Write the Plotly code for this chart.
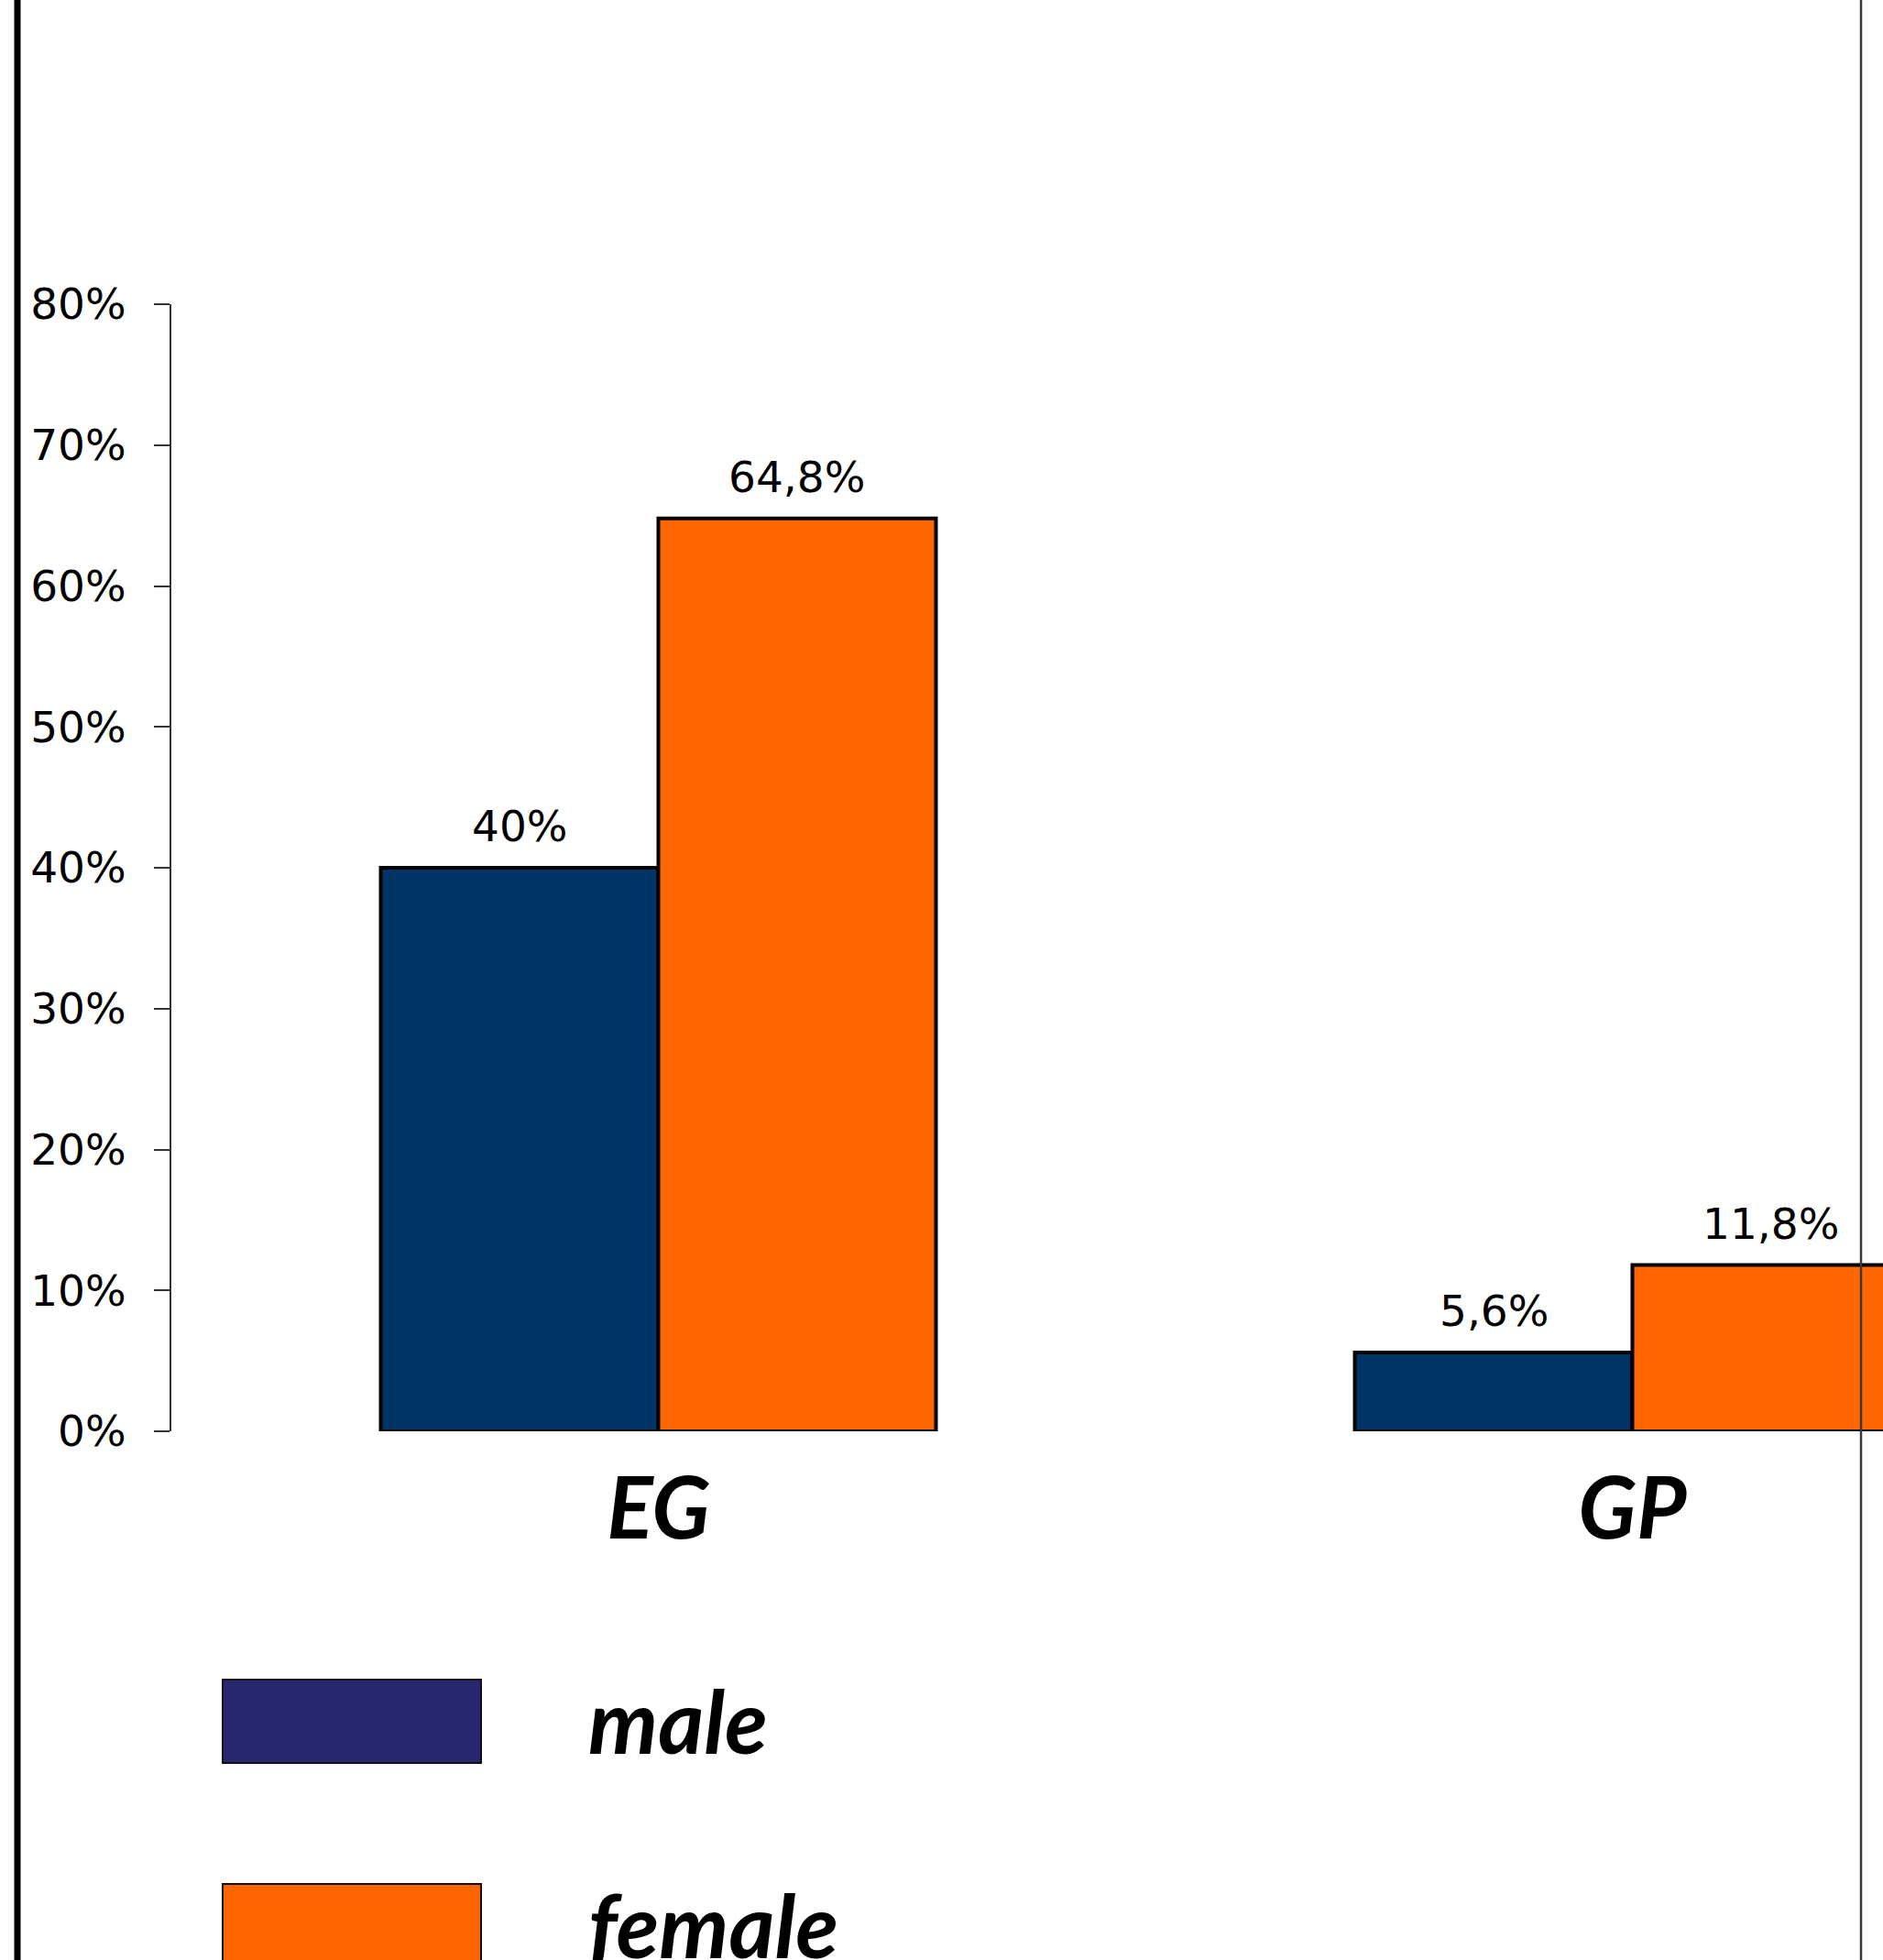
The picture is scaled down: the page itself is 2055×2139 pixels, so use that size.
import plotly.graph_objects as go

# Share of respondents by group and sex
categories = ["EG", "GP"]
male_values = [40.0, 5.6]
female_values = [64.8, 11.8]
series_names = ["male", "female"]
y_tick_values = [0, 10, 20, 30, 40, 50, 60, 70, 80]
y_tick_labels = ["0%", "10%", "20%", "30%", "40%", "50%", "60%", "70%", "80%"]

MALE_BAR = "#003366"
MALE_KEY = "#29276F"
FEMALE = "#FF6600"

W, H = 2055, 2139
L, R, T, B = 187, 0, 332, 577
BARGAP = 0.43

LABEL_FONT = dict(family="DejaVu Sans", size=47, color="black")
SCRIPT_FONT = dict(family="Lato", size=94, color="black", weight="bold", style="italic")


def fmt(v):
    return f"{v:g}".replace(".", ",") + "%"


plot_w = W - L - R
plot_h = H - T - B


def px(x):
    return (x - L) / plot_w


def py(y):
    return (H - B - y) / plot_h


fig = go.Figure()
series = [(series_names[0], male_values, MALE_BAR), (series_names[1], female_values, FEMALE)]
for name, vals, col in series:
    fig.add_trace(go.Bar(
        name=name, x=categories, y=vals,
        marker=dict(color=col, line=dict(color="black", width=4)),
        showlegend=False,
    ))

# value labels above each bar
bar_w = (1 - BARGAP) / len(series)
for i, (name, vals, col) in enumerate(series):
    off = (i - (len(series) - 1) / 2) * bar_w
    for ci, v in enumerate(vals):
        fig.add_annotation(
            x=ci + off, y=v, xref="x", yref="y", text=fmt(v),
            showarrow=False, yanchor="bottom", yshift=16,
            font=LABEL_FONT,
        )

# category range runs past the page so the last group is cut at the edge
x_hi = -0.5 + plot_w / (1063.0)

fig.update_layout(
    width=W, height=H,
    margin=dict(l=L, r=R, t=T, b=B, pad=0),
    paper_bgcolor="white", plot_bgcolor="white",
    barmode="group", bargap=BARGAP, bargroupgap=0,
    showlegend=False,
    xaxis=dict(
        type="category", range=[-0.5, x_hi],
        showline=False, showgrid=False, zeroline=False, ticks="",
        tickfont=SCRIPT_FONT, ticklabelstandoff=22,
    ),
    yaxis=dict(
        range=[0, 80], tickvals=y_tick_values, ticktext=y_tick_labels,
        showline=True, linecolor="#333333", linewidth=2,
        ticks="outside", ticklen=17, tickwidth=2, tickcolor="#333333",
        showgrid=False, zeroline=False,
        tickfont=LABEL_FONT, ticklabelstandoff=21,
    ),
)

# slide frame lines
fig.add_shape(type="line", xref="paper", yref="paper",
              x0=px(19), x1=px(19), y0=py(-5), y1=py(H + 5),
              line=dict(color="black", width=7), layer="above")
fig.add_shape(type="line", xref="paper", yref="paper",
              x0=px(2031), x1=px(2031), y0=py(-5), y1=py(H + 5),
              line=dict(color="#3a3a3a", width=2.5), layer="above")

# key below the chart
key_colors = [MALE_KEY, FEMALE]
key_tops = [1833, 2056]
for name, col, top in zip(series_names, key_colors, key_tops):
    fig.add_shape(type="rect", xref="paper", yref="paper",
                  x0=px(243), x1=px(525), y0=py(top), y1=py(top + 91),
                  fillcolor=col, line=dict(color="#111111", width=2))
    fig.add_annotation(
        x=px(640), y=py(top + 43), xref="paper", yref="paper",
        text=name, showarrow=False, xanchor="left", yanchor="middle",
        font=dict(family="Lato", size=96, color="black", weight="bold", style="italic"),
    )

fig.write_html("out.html")
